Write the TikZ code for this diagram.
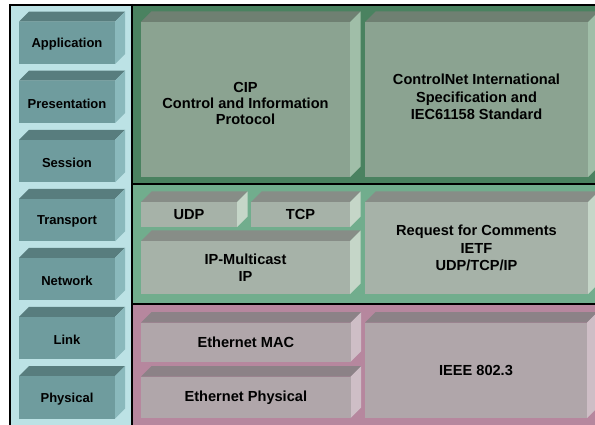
\documentclass[tikz,border=0pt]{standalone}
\usepackage{fontspec}
\setmainfont{Liberation Sans}
\definecolor{osiBG}{HTML}{BCE2E5}
\definecolor{osiF}{HTML}{6F9C9E}
\definecolor{osiT}{HTML}{587D7E}
\definecolor{osiS}{HTML}{8AB9BC}
\definecolor{appBG}{HTML}{4A8260}
\definecolor{appF}{HTML}{8BA391}
\definecolor{appT}{HTML}{6F8072}
\definecolor{appS}{HTML}{A0BEA8}
\definecolor{netBG}{HTML}{71AD8D}
\definecolor{netF}{HTML}{A6B2A8}
\definecolor{netT}{HTML}{878D87}
\definecolor{netS}{HTML}{C5D6C8}
\definecolor{phyBG}{HTML}{B6879E}
\definecolor{phyF}{HTML}{B0A6AA}
\definecolor{phyT}{HTML}{8C8287}
\definecolor{phyS}{HTML}{CEBEC6}
\tikzset{
  osilabel/.style={font=\fontsize{13}{15}\selectfont\bfseries, align=center, inner sep=0pt},
  stacklabel/.style={font=\fontsize{14.6}{17.5}\selectfont\bfseries, align=center, inner sep=0pt},
  tightlabel/.style={font=\fontsize{14.6}{16}\selectfont\bfseries, align=center, inner sep=0pt},
  sepline/.style={line width=2pt, black}
}
% name, x1, y1, x2, y2, colour prefix, depth
\newcommand{\slab}[7]{%
  \fill[#6T] (#2,#3) -- ({#2+#7},{#3-#7}) -- ({#4+#7},{#3-#7}) -- (#4,#3) -- cycle;
  \fill[#6S] (#4,#3) -- ({#4+#7},{#3-#7}) -- ({#4+#7},{#5-#7}) -- (#4,#5) -- cycle;
  \fill[#6F] (#2,#3) rectangle (#4,#5);
  \coordinate (#1) at ({(#2+#4)/2},{(#3+#5)/2});
}
\begin{document}
\begin{tikzpicture}[x=1pt,y=-1pt]
\useasboundingbox (0,0) rectangle (595,425);
\fill[white] (0,0) rectangle (595,425);
% panels
\fill[osiBG] (10,5) rectangle (132,425);
\fill[appBG] (132,5) rectangle (595,184);
\fill[netBG] (132,184) rectangle (595,304);
\fill[phyBG] (132,304) rectangle (595,425);
% OSI layers
\foreach \nm [count=\i from 0] in {Application,Presentation,Session,Transport,Network,Link,Physical}{
  \pgfmathsetmacro{\ytop}{21.7+\i*59.05}
  \pgfmathsetmacro{\ybot}{\ytop+42.5}
  \slab{c\i}{19}{\ytop}{115}{\ybot}{osi}{10}
  \node[osilabel] (l\i) at ([yshift=-1.5pt]c\i) {\nm};
}
% application section
\slab{cip}{141}{22}{350}{177}{app}{10.5}
\node[tightlabel] (cipt) at ([yshift=-3.5pt]cip) {CIP\\Control and Information\\Protocol};
\slab{cn}{365}{22}{588}{177}{app}{10.5}
\node[stacklabel] (cnt) at ([yshift=2.5pt]cn) {ControlNet International\\Specification and\\IEC61158 Standard};
% transport/network section
\slab{udp}{141}{202}{237}{227}{net}{10.5}
\node[stacklabel] (udpt) at (udp) {UDP};
\slab{tcp}{251}{202}{350}{227}{net}{10.5}
\node[stacklabel] (tcpt) at (tcp) {TCP};
\slab{ip}{141}{241}{350}{294}{net}{10.5}
\node[stacklabel] (ipt) at (ip) {IP-Multicast\\IP};
\slab{rfc}{365}{202}{588}{294}{net}{10.5}
\node[stacklabel] (rfct) at (rfc) {Request for Comments\\IETF\\UDP/TCP/IP};
% link/physical section
\slab{mac}{141}{322.7}{350.7}{361.7}{phy}{10.5}
\node[stacklabel] (mact) at (mac) {Ethernet MAC};
\slab{eph}{141}{376.7}{350.7}{418}{phy}{10.5}
\node[stacklabel] (epht) at (eph) {Ethernet Physical};
\slab{ieee}{365}{322.7}{587}{418}{phy}{10.5}
\node[stacklabel] (ieeet) at (ieee) {IEEE 802.3};
% separators
\draw[sepline] (9,5) -- (595,5);
\draw[sepline] (10,4) -- (10,425);
\draw[sepline] (132,4) -- (132,425);
\draw[sepline] (132,184) -- (595,184);
\draw[sepline] (132,304) -- (595,304);
\end{tikzpicture}
\end{document}
